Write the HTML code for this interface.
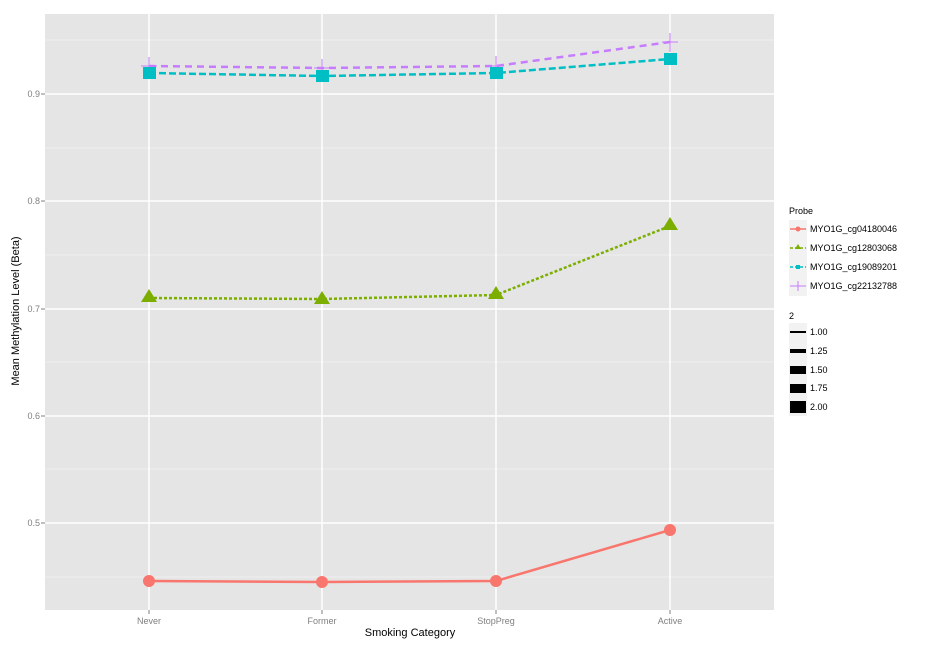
<!DOCTYPE html><html><head><style>body{margin:0;background:#fff}svg{display:block;font-family:"Liberation Sans",sans-serif}</style></head><body>
<svg width="936" height="648" xmlns="http://www.w3.org/2000/svg">
<rect x="45" y="14" width="729" height="596" fill="#e5e5e5"/>
<g stroke="#f2f2f2" stroke-width="0.8">
<line x1="45" x2="774" y1="40" y2="40"/><line x1="45" x2="774" y1="148" y2="148"/><line x1="45" x2="774" y1="255" y2="255"/><line x1="45" x2="774" y1="362" y2="362"/><line x1="45" x2="774" y1="469" y2="469"/><line x1="45" x2="774" y1="577" y2="577"/></g>
<g stroke="#fff" stroke-width="1.5">
<line x1="45" x2="774" y1="94" y2="94"/><line x1="45" x2="774" y1="201" y2="201"/><line x1="45" x2="774" y1="309" y2="309"/><line x1="45" x2="774" y1="416" y2="416"/><line x1="45" x2="774" y1="523" y2="523"/>
<line y1="14" y2="610" x1="149" x2="149"/><line y1="14" y2="610" x1="322" x2="322"/><line y1="14" y2="610" x1="496" x2="496"/><line y1="14" y2="610" x1="670" x2="670"/></g>
<g fill="#7f7f7f" font-size="9" text-anchor="end"><text x="40" y="97">0.9</text><text x="40" y="204">0.8</text><text x="40" y="312">0.7</text><text x="40" y="419">0.6</text><text x="40" y="526">0.5</text></g>
<g stroke="#7f7f7f"><line x1="41" x2="45" y1="94" y2="94"/><line x1="41" x2="45" y1="201" y2="201"/><line x1="41" x2="45" y1="309" y2="309"/><line x1="41" x2="45" y1="416" y2="416"/><line x1="41" x2="45" y1="523" y2="523"/>
<line x1="149" x2="149" y1="610" y2="614"/><line x1="322" x2="322" y1="610" y2="614"/><line x1="496" x2="496" y1="610" y2="614"/><line x1="670" x2="670" y1="610" y2="614"/></g>
<g fill="#7f7f7f" font-size="9" text-anchor="middle"><text x="149" y="624">Never</text><text x="322" y="624">Former</text><text x="496" y="624">StopPreg</text><text x="670" y="624">Active</text></g>
<text x="410" y="636" font-size="11" text-anchor="middle">Smoking Category</text>
<text transform="translate(19,311) rotate(-90)" font-size="11" text-anchor="middle">Mean Methylation Level (Beta)</text>
<polyline points="149,581 322,582 496,581 670,530" fill="none" stroke="#f8766d" stroke-width="2.5"/>
<g fill="#f8766d"><circle cx="149" cy="581" r="6"/><circle cx="322" cy="582" r="6"/><circle cx="496" cy="581" r="6"/><circle cx="670" cy="530" r="6"/></g>
<polyline points="149,298 322,299 496,295 670,226" fill="none" stroke="#7cae00" stroke-width="2.5" stroke-dasharray="3,2"/>
<g fill="#7cae00"><path d="M149,289 l8,13 h-16z"/><path d="M322,291 l8,13 h-16z"/><path d="M496,286 l8,13 h-16z"/><path d="M670,217 l8,13 h-16z"/></g>
<polyline points="149,66 322,68 496,66 670,42" fill="none" stroke="#c77cff" stroke-width="2.5" stroke-dasharray="7,5"/>
<g stroke="#c77cff" stroke-width="1"><path d="M141,66h16M149,57v19M314,68h16M322,59v19M488,66h16M496,56v20M662,42h16M670,33v19"/></g>
<polyline points="149,73 322,76 496,73 670,59" fill="none" stroke="#00bfc4" stroke-width="2.5" stroke-dasharray="7,3"/>
<g fill="#00bfc4"><rect x="143" y="67" width="13" height="12"/><rect x="316" y="70" width="13" height="12"/><rect x="490" y="67" width="13" height="12"/><rect x="664" y="53" width="13" height="12"/></g>
<g font-size="9">
<text x="789" y="214">Probe</text>
<rect x="789" y="220" width="18" height="76" fill="#f2f2f2"/>
<line x1="790" x2="806" y1="229" y2="229" stroke="#f8766d" stroke-width="1.5"/><circle cx="798" cy="229" r="2.5" fill="#f8766d"/>
<line x1="790" x2="806" y1="248" y2="248" stroke="#7cae00" stroke-width="1.5" stroke-dasharray="3,2"/><path d="M798,244 l3,5 h-6z" fill="#7cae00"/>
<line x1="790" x2="806" y1="267" y2="267" stroke="#00bfc4" stroke-width="1.5" stroke-dasharray="3,2"/><rect x="796" y="265" width="4" height="4" fill="#00bfc4"/>
<line x1="790" x2="806" y1="286" y2="286" stroke="#c77cff" stroke-width="1"/><line x1="798" x2="798" y1="281" y2="291" stroke="#c77cff"/>
<text x="810" y="232">MYO1G_cg04180046</text><text x="810" y="251">MYO1G_cg12803068</text><text x="810" y="270">MYO1G_cg19089201</text><text x="810" y="289">MYO1G_cg22132788</text>
<text x="789" y="319">2</text>
<rect x="789" y="323" width="18" height="93" fill="#f2f2f2"/>
<rect x="790" y="331" width="16" height="2"/><rect x="790" y="349" width="16" height="4"/><rect x="790" y="366" width="16" height="8"/><rect x="790" y="384" width="16" height="9"/><rect x="790" y="401" width="16" height="12"/>
<text x="810" y="335">1.00</text><text x="810" y="354">1.25</text><text x="810" y="373">1.50</text><text x="810" y="391">1.75</text><text x="810" y="410">2.00</text>
</g>
</svg></body></html>
